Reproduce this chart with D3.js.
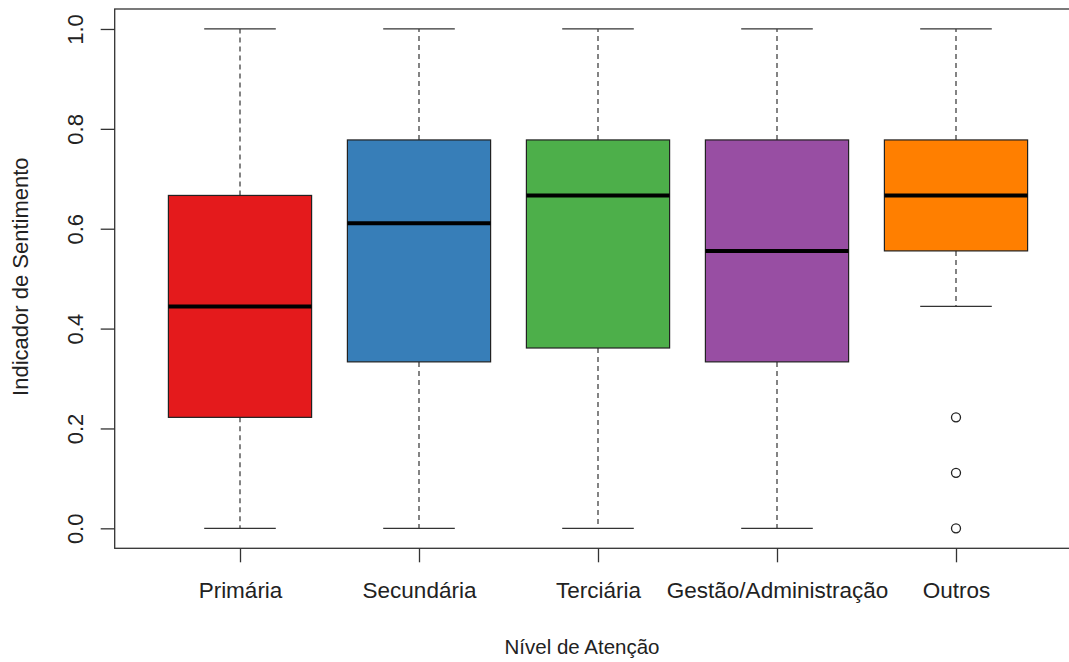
<!DOCTYPE html>
<html>
<head>
<meta charset="utf-8">
<script src="https://cdn.jsdelivr.net/npm/d3@7"></script>
<style>
  html, body { margin: 0; padding: 0; background: #fff; }
  svg { display: block; }
  text { font-family: "Liberation Sans", Arial, sans-serif; fill: #222; }
</style>
</head>
<body>
<svg id="chart" width="1069" height="662"></svg>
<script>
// Five-number summaries per care level
const categories = ["Primária", "Secundária", "Terciária", "Gestão/Administração", "Outros"];
const lowerWhisker = [0, 0, 0, 0, 4/9];
const q1 = [2/9, 1/3, 13/36, 1/3, 5/9];
const median = [4/9, 11/18, 2/3, 5/9, 2/3];
const q3 = [2/3, 7/9, 7/9, 7/9, 7/9];
const upperWhisker = [1, 1, 1, 1, 1];
const outliers = [[], [], [], [], [2/9, 1/9, 0]];
const colors = ["#E41A1C", "#377EB8", "#4DAF4A", "#984EA3", "#FF7F00"];
const yTicks = [0, 0.2, 0.4, 0.6, 0.8, 1.0];

const svg = d3.select("#chart");

// Plot region (R-style 4% expansion on both axes)
const x = d3.scaleLinear().domain([0.3, 5.7]).range([114.7, 1081.3]);
const y = d3.scaleLinear().domain([-0.04, 1.04]).range([548.3, 9.0]);
const boxW = (x(1) - x(0)) * 0.8;
const capW = boxW * 0.5;
const axisColor = "#333";

const g = svg.append("g");

categories.forEach((c, i) => {
  const cx = x(i + 1);
  const grp = g.append("g");
  // whiskers (dashed)
  grp.append("line")
    .attr("x1", cx).attr("x2", cx)
    .attr("y1", y(q3[i])).attr("y2", y(upperWhisker[i]))
    .attr("stroke", "#333").attr("stroke-width", 1.2).attr("stroke-dasharray", "5,4");
  grp.append("line")
    .attr("x1", cx).attr("x2", cx)
    .attr("y1", y(q1[i])).attr("y2", y(lowerWhisker[i]))
    .attr("stroke", "#333").attr("stroke-width", 1.2).attr("stroke-dasharray", "5,4");
  // caps
  [upperWhisker[i], lowerWhisker[i]].forEach(v => {
    grp.append("line")
      .attr("x1", cx - capW / 2).attr("x2", cx + capW / 2)
      .attr("y1", y(v)).attr("y2", y(v))
      .attr("stroke", "#333").attr("stroke-width", 1.3);
  });
  // box
  grp.append("rect")
    .attr("x", cx - boxW / 2).attr("width", boxW)
    .attr("y", y(q3[i])).attr("height", y(q1[i]) - y(q3[i]))
    .attr("fill", colors[i]).attr("stroke", "#222").attr("stroke-width", 1.2);
  // median
  grp.append("line")
    .attr("x1", cx - boxW / 2).attr("x2", cx + boxW / 2)
    .attr("y1", y(median[i])).attr("y2", y(median[i]))
    .attr("stroke", "#000").attr("stroke-width", 4);
  // outliers
  outliers[i].forEach(v => {
    grp.append("circle")
      .attr("cx", cx).attr("cy", y(v)).attr("r", 4.5)
      .attr("fill", "none").attr("stroke", "#222").attr("stroke-width", 1.3);
  });
});

// Plot frame
svg.append("rect")
  .attr("x", x.range()[0]).attr("y", y.range()[1])
  .attr("width", x.range()[1] - x.range()[0])
  .attr("height", y.range()[0] - y.range()[1])
  .attr("fill", "none").attr("stroke", axisColor).attr("stroke-width", 1.3);

// Y axis
const yAxis = d3.axisLeft(y).tickValues(yTicks).tickFormat(d3.format(".1f")).tickSize(14).tickPadding(0);
const ya = svg.append("g").attr("transform", `translate(${x.range()[0]},0)`).call(yAxis);
ya.select(".domain").attr("stroke", "none");
ya.selectAll(".tick line").attr("stroke", axisColor).attr("stroke-width", 1.3);
ya.selectAll(".tick text")
  .attr("transform", "rotate(-90)")
  .attr("x", 0).attr("y", -32)
  .attr("dy", 0)
  .attr("text-anchor", "middle")
  .style("font-size", "22px")
  .style("font-family", "'Liberation Sans', Arial, sans-serif")
  .attr("fill", "#222");

// X axis
const xAxis = d3.axisBottom(x).tickValues([1, 2, 3, 4, 5]).tickFormat((d) => categories[d - 1]).tickSize(14).tickPadding(0);
const xa = svg.append("g").attr("transform", `translate(0,${y.range()[0]})`).call(xAxis);
xa.select(".domain").attr("stroke", "none");
xa.selectAll(".tick line").attr("stroke", axisColor).attr("stroke-width", 1.3);
xa.selectAll(".tick text")
  .attr("y", 50).attr("dy", 0)
  .style("font-size", "22.5px")
  .style("font-family", "'Liberation Sans', Arial, sans-serif")
  .attr("fill", "#222");

// Axis titles
svg.append("text")
  .attr("x", 582).attr("y", 654)
  .attr("text-anchor", "middle")
  .style("font-size", "20.5px")
  .text("Nível de Atenção");

svg.append("text")
  .attr("transform", `translate(28,${(y.range()[0] + y.range()[1]) / 2 - 2}) rotate(-90)`)
  .attr("text-anchor", "middle")
  .style("font-size", "22px")
  .text("Indicador de Sentimento");
</script>
</body>
</html>
